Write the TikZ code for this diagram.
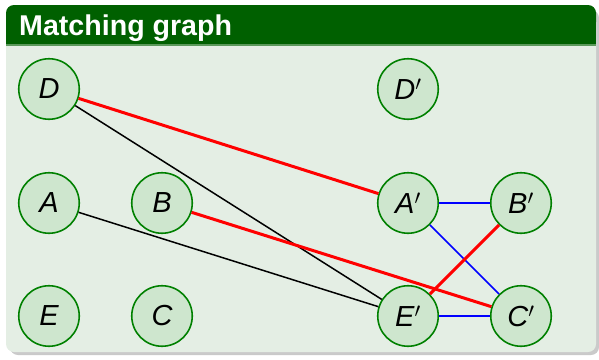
\documentclass[tikz,border=0pt]{standalone}
\usepackage{fontspec}
\setmainfont{Liberation Sans}
\setsansfont{Liberation Sans}
\definecolor{titlegreen}{RGB}{0,96,0}
\definecolor{bodyfill}{RGB}{228,238,228}
\definecolor{nodefill}{RGB}{206,230,206}
\definecolor{nodegreen}{RGB}{0,128,0}
\definecolor{edgered}{RGB}{255,0,0}
\definecolor{edgeblue}{RGB}{0,0,255}
\tikzset{
  vtx/.style={circle, draw=nodegreen, fill=nodefill, line width=1.6pt, minimum size=60.5pt, inner sep=0pt,
    font=\fontsize{29}{32}\selectfont\sffamily\itshape},
  redge/.style={draw=edgered, line width=3pt},
  kedge/.style={draw=black, line width=1.5pt},
  bedge/.style={draw=edgeblue, line width=1.5pt},
}
\begin{document}
\begin{tikzpicture}[x=1pt,y=-1pt]
\useasboundingbox (0,0) rectangle (599,359);
% shadow
\fill[black!35, opacity=0.6, rounded corners=8pt] (10,10) rectangle (599,355);
\fill[black!20, opacity=0.5, rounded corners=8pt] (9,9) rectangle (598,354);
% body
\fill[bodyfill, rounded corners=8pt] (6,5) rectangle (596,352);
% title bar
\fill[titlegreen, rounded corners=8pt] (6,5) rectangle (596,30);
\fill[titlegreen] (6,20) rectangle (596,44);
\fill[titlegreen!60!bodyfill] (6,44) rectangle (596,46);
\node[anchor=base west, inner sep=0pt, text=white, font=\fontsize{28.6}{32}\selectfont\sffamily\bfseries] (title) at (19,35.5) {Matching graph};
% nodes
\node[vtx] (D)  at (49,89)  {D};
\node[vtx] (A)  at (49,203) {A};
\node[vtx] (B)  at (162,203) {B};
\node[vtx] (E)  at (49,316) {E};
\node[vtx] (C)  at (162,316) {C};
\node[vtx] (Dp) at (408,89)  {D$'$};
\node[vtx] (Ap) at (408,203) {A$'$};
\node[vtx] (Bp) at (521,203) {B$'$};
\node[vtx] (Ep) at (408,316) {E$'$};
\node[vtx] (Cp) at (521,316) {C$'$};
% edges
\path[kedge] (D) -- (Ep);
\path[kedge] (A) -- (Ep);
\path[redge] (D) -- (Ap);
\path[redge] (B) -- (Cp);
\path[bedge] (Ap) -- (Bp);
\path[bedge] (Ap) -- (Cp);
\path[bedge] (Ep) -- (Cp);
\path[redge] (Ep) -- (Bp);
\end{tikzpicture}
\end{document}
